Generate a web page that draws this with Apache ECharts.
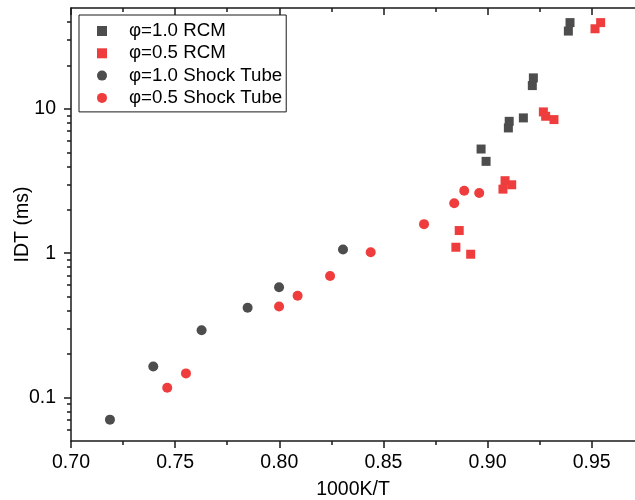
<!DOCTYPE html>
<html>
	<head>
		<meta charset="UTF-8">
		<title>IDT</title>
	</head>
	<style>
		*{margin:0;padding:0;}
		html,body{height:100%;background:#fff;}
		.chart{width:635px;height:500px;}
	</style>
	<body>
		<div id='chart' class='chart'></div>
	</body>
	<script src="https://cdn.jsdelivr.net/npm/echarts@6/dist/echarts.min.js"></script>
	<script>
		// [1000K/T, IDT ms]
		var rcm10=[[0.8969,5.27],[0.8993,4.33],[0.9100,7.38],[0.9104,8.2],[0.9172,8.66],[0.9215,14.5],[0.9220,16.4],[0.9388,34.6],[0.9396,39.6]];
		var rcm05=[[0.8848,1.10],[0.8864,1.436],[0.8919,0.984],[0.9074,2.78],[0.9084,3.18],[0.9116,2.98],[0.9268,9.53],[0.9279,8.89],[0.9319,8.43],[0.9516,35.9],[0.9543,39.6]];
		var st10=[[0.7187,0.0703],[0.7395,0.164],[0.7627,0.293],[0.7848,0.419],[0.7999,0.581],[0.8306,1.06]];
		var st05=[[0.7462,0.117],[0.7552,0.147],[0.7999,0.428],[0.8088,0.508],[0.8244,0.695],[0.8439,1.016],[0.8695,1.59],[0.8840,2.22],[0.8888,2.71],[0.8960,2.61]];

		var xMajor=[0.70,0.75,0.80,0.85,0.90,0.95];
		var xMinor=[0.725,0.775,0.825,0.875,0.925];
		var yMajor=[0.1,1,10];
		var yMinor=[0.06,0.07,0.08,0.09,0.2,0.3,0.4,0.5,0.6,0.7,0.8,0.9,2,3,4,5,6,7,8,9,20,30,40];

		var gray='#4d4d4d',red='#ef3d3d',ink='#1a1a1a';
		var font='Liberation Sans, Arial, sans-serif';
		var xMin=0.7,xMax=0.9708,yMin=0.05,yMax=50;
		var lg=function(v){return Math.log(v)/Math.LN10;};

		function xAx(pos,ticks,len,inside,showLine,labels){
			return {
				type:'value',position:pos,min:xMin,max:xMax,
				axisLine:{show:showLine,onZero:false,lineStyle:{color:ink,width:1.5}},
				axisTick:{show:true,inside:inside,length:len,customValues:ticks,lineStyle:{color:ink,width:1.5}},
				axisLabel:labels?{customValues:labels,margin:12,color:'#000',fontSize:19.5,fontFamily:font,formatter:function(v){return v.toFixed(2);}}:{show:false},
				splitLine:{show:false}
			};
		}
		// tick-only y axes in log10 space (decoration)
		function yTickAx(ticks,len){
			return {
				type:'value',position:'left',min:lg(yMin),max:lg(yMax),
				axisLine:{show:false,onZero:false},
				axisTick:{show:true,inside:false,length:len,customValues:ticks.map(lg),lineStyle:{color:ink,width:1.5}},
				axisLabel:{show:false},splitLine:{show:false}
			};
		}

		var xs=[
			xAx('bottom',xMajor,7,false,true,xMajor),
			xAx('bottom',xMinor,4,false,false,null),
			xAx('top',xMajor,7,true,true,null),
			xAx('top',xMinor,4,true,false,null)
		];
		xs[0].name='1000K/T';xs[0].nameLocation='middle';xs[0].nameGap=39;xs[0].nameMoveOverlap=false;
		xs[0].nameTextStyle={color:'#000',fontSize:19.5,fontFamily:font};
		var ys=[
			{
				type:'log',position:'left',min:yMin,max:yMax,logBase:10,
				axisLine:{show:true,onZero:false,lineStyle:{color:ink,width:1.5}},
				axisTick:{show:false},
				axisLabel:{customValues:yMajor,margin:15,color:'#000',fontSize:19.5,fontFamily:font,formatter:function(v){return String(v);}},
				splitLine:{show:false},minorTick:{show:false},
				name:'IDT (ms)',nameLocation:'middle',nameGap:38,nameMoveOverlap:false,
				nameTextStyle:{color:'#000',fontSize:19.5,fontFamily:font}
			},
			yTickAx(yMajor,7),
			yTickAx(yMinor,4)
		];

		function sc(name,data,sym,size,color){
			return {name:name,type:'scatter',data:data,symbol:sym,symbolSize:size,
				xAxisIndex:0,yAxisIndex:0,itemStyle:{color:color,opacity:1},emphasis:{disabled:true}};
		}
		var sq='path://M0 0H10V10H0Z';

		var chart=echarts.init(document.getElementById('chart'),null,{renderer:'canvas'});
		chart.setOption({
			animation:false,
			backgroundColor:'#fff',
			grid:{left:71,top:8,right:0,bottom:59,containLabel:false,outerBoundsMode:'none'},
			legend:{
				orient:'vertical',left:79,top:15,
				padding:[6,4,4,18],itemGap:2.3,itemWidth:44,itemHeight:10,symbolKeepAspect:true,
				borderColor:ink,borderWidth:1,
				textStyle:{color:'#000',fontSize:18.7,fontFamily:font,lineHeight:20},
				data:[
					{name:'φ=1.0 RCM',icon:sq},
					{name:'φ=0.5 RCM',icon:sq},
					{name:'φ=1.0 Shock Tube',icon:'circle'},
					{name:'φ=0.5 Shock Tube',icon:'circle'}
				]
			},
			xAxis:xs,
			yAxis:ys,
			series:[
				sc('φ=1.0 RCM',rcm10,'rect',9,gray),
				sc('φ=0.5 RCM',rcm05,'rect',9,red),
				sc('φ=1.0 Shock Tube',st10,'circle',10,gray),
				sc('φ=0.5 Shock Tube',st05,'circle',10,red)
			]
		});
	</script>
</html>
